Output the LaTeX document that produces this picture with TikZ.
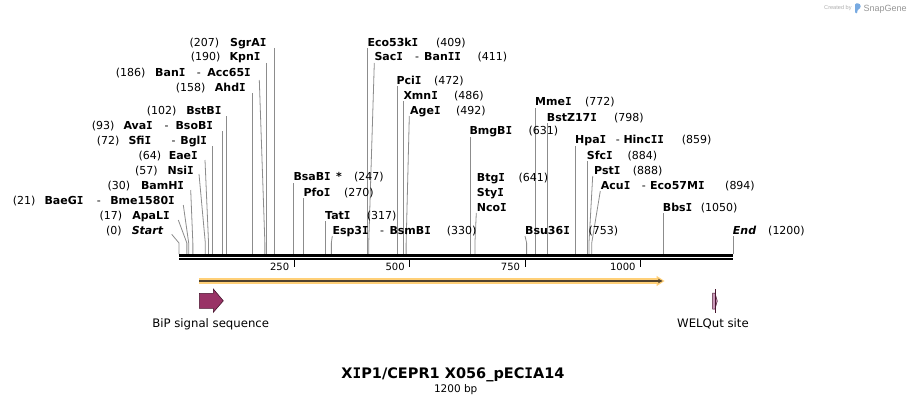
\documentclass[tikz,border=0pt]{standalone}
\usepackage{fontspec}
\setmainfont{DejaVu Sans}
\newfontfamily\libsans{Liberation Sans}
\newfontfamily\dmono{DejaVu Sans Mono}
\newcommand\sI{{\dmono I}}
\usetikzlibrary{calc,arrows.meta}
\definecolor{cngray}{RGB}{140,140,140}
\definecolor{orf}{RGB}{255,208,120}
\definecolor{orfdark}{RGB}{80,66,45}
\definecolor{bip}{RGB}{153,51,102}
\definecolor{bipdark}{RGB}{70,20,45}
\definecolor{welq}{RGB}{204,153,187}
\definecolor{logoblue}{RGB}{120,170,225}
\definecolor{credgray}{RGB}{175,175,175}
\definecolor{snapgray}{RGB}{150,150,150}
\tikzset{
  nm/.style={font=\fontsize{11}{13}\selectfont\bfseries, inner sep=0pt, text height=8pt, text depth=0pt},
  nmi/.style={font=\fontsize{11}{13}\selectfont\bfseries\itshape, inner sep=0pt, text height=8pt, text depth=0pt},
  ps/.style={font=\fontsize{11}{13}\selectfont, inner sep=0pt, text height=8pt, text depth=0pt},
  cn/.style={draw=cngray, line width=0.8pt},
  featlbl/.style={font=\fontsize{11.7}{14}\selectfont, inner sep=0pt, text height=8.5pt, text depth=0pt},
}
% vertical connector: id, start y, bp
\newcommand\mkV[3]{\coordinate (s#1) at ({179+#3*0.461667},254); \coordinate (c#1) at ({179+#3*0.461667},#2); \draw[cn] (c#1) -- (s#1);}
% slanted connector: id, start x, start y, bp
\newcommand\mkS[4]{\coordinate (s#1) at ({179+#4*0.461667},254); \coordinate (c#1) at (#2,#3); \draw[cn] (c#1) -- ($(s#1)+(0,-11)$) -- (s#1);}
\newcommand\tW[5]{\node[#1,anchor=west] (#2) at (#3,#4) {#5};}
\newcommand\tE[5]{\node[#1,anchor=east] (#2) at (#3,#4) {#5};}
\begin{document}
\begin{tikzpicture}[x=1pt,y=-1pt]
\useasboundingbox (0,0) rectangle (912,404);
\fill[white] (0,0) rectangle (912,404);

% ---------- connectors ----------
\mkV{SgrAI}{48}{207}
\mkV{KpnI}{63}{190}
\mkS{BanI}{259.3}{80}{186}
\mkV{AhdI}{93}{158}
\mkV{BstBI}{116}{102}
\mkV{AvaI}{131}{93}
\mkV{SfiI}{146}{72}
\mkS{EaeI}{205}{160}{64}
\mkS{NsiI}{199}{174}{57}
\mkS{BamHI}{190.7}{190}{30}
\mkS{BaeGI}{183.3}{205}{21}
\mkS{ApaLI}{178.3}{220}{17}
\mkS{Start}{171.7}{234.3}{0}
\mkV{Eco53kI}{48}{409}
\mkS{SacI}{374.3}{63}{411}
\mkV{PciI}{86}{472}
\mkV{XmnI}{101}{486}
\mkS{AgeI}{409.3}{116}{492}
\mkV{BmgBI}{137}{631}
\mkV{BsaBI}{183}{247}
\mkV{PfoI}{198}{270}
\mkV{TatI}{221}{317}
\mkS{Esp3I}{332.3}{236}{330}
\mkS{BtgI}{476.3}{213}{641}
\mkS{Bsu36I}{525}{236}{753}
\mkV{MmeI}{108}{772}
\mkV{BstZ}{123}{798}
\mkV{HpaI}{146}{859}
\mkV{SfcI}{161}{884}
\mkS{PstI}{592.7}{176}{888}
\mkS{AcuI}{600.3}{191}{894}
\mkV{BbsI}{213}{1050}
\mkV{End}{236}{1200}

% ---------- left labels ----------
\tW{ps}{p1}{189.3}{42.3}{(207)}  \tE{nm}{n1}{266.7}{42.3}{SgrA\sI}
\tW{ps}{p2}{190.7}{56.7}{(190)}  \tE{nm}{n2}{260.7}{56.7}{Kpn\sI}
\tW{ps}{p3}{115.7}{72.3}{(186)}  \tW{nm}{n3}{155}{72.3}{Ban\sI} \tW{ps}{h3}{196.7}{72.3}{-} \tE{nm}{m3}{251}{72.3}{Acc65\sI}
\tW{ps}{p4}{175.7}{87.3}{(158)}  \tE{nm}{n4}{246}{87.3}{Ahd\sI}
\tW{ps}{p5}{146.7}{110}{(102)}   \tE{nm}{n5}{221.7}{110}{BstB\sI}
\tW{ps}{p6}{91.7}{125}{(93)}     \tW{nm}{n6}{123.3}{125}{Ava\sI} \tW{ps}{h6}{164.3}{125}{-} \tE{nm}{m6}{213.3}{125}{BsoB\sI}
\tW{ps}{p7}{96.7}{140}{(72)}     \tW{nm}{n7}{128.3}{140}{Sfi\sI} \tW{ps}{h7}{171.5}{140}{-} \tE{nm}{m7}{207.3}{140}{Bgl\sI}
\tW{ps}{p8}{138.3}{155}{(64)}    \tE{nm}{n8}{198}{155}{Eae\sI}
\tW{ps}{p9}{135}{170}{(57)}      \tE{nm}{n9}{194}{170}{Nsi\sI}
\tW{ps}{p10}{107.3}{185}{(30)}   \tE{nm}{n10}{184.3}{185}{BamH\sI}
\tW{ps}{p11}{12.7}{200}{(21)}    \tW{nm}{n11}{44.3}{200}{BaeG\sI} \tW{ps}{h11}{96.7}{200}{-} \tE{nm}{m11}{175}{200}{Bme1580\sI}
\tW{ps}{p12}{99.3}{215}{(17)}    \tE{nm}{n12}{170}{215}{ApaL\sI}
\tW{ps}{p13}{106}{230}{(0)}      \tE{nmi}{n13}{163.3}{230}{Start}

% ---------- right labels ----------
\tW{nm}{n14}{367.3}{42.3}{Eco53k\sI} \tW{ps}{p14}{436}{42.3}{(409)}
\tW{nm}{n15}{374.3}{56.7}{Sac\sI} \tW{ps}{h15}{415}{56.7}{-} \tW{nm}{m15}{424}{56.7}{Ban\sI\sI} \tW{ps}{p15}{477.3}{56.7}{(411)}
\tW{nm}{n16}{396.3}{80}{Pci\sI} \tW{ps}{p16}{434}{80}{(472)}
\tW{nm}{n17}{403.3}{95}{Xmn\sI} \tW{ps}{p17}{454}{95}{(486)}
\tW{nm}{n18}{410}{110}{Age\sI} \tW{ps}{p18}{456}{110}{(492)}
\tW{nm}{n19}{469.3}{130.7}{BmgB\sI} \tW{ps}{p19}{528.3}{130.7}{(631)}
\tW{nm}{n20}{293.3}{176.7}{BsaB\sI} \tW{nm}{a20}{336}{176.7}{*} \tW{ps}{p20}{354}{176.7}{(247)}
\tW{nm}{n21}{303.3}{192.3}{Pfo\sI} \tW{ps}{p21}{344}{192.3}{(270)}
\tW{nm}{n22}{325}{215}{Tat\sI} \tW{ps}{p22}{366.7}{215}{(317)}
\tW{nm}{n23}{332.3}{230}{Esp3\sI} \tW{ps}{h23}{380}{230}{-} \tW{nm}{m23}{389.3}{230}{BsmB\sI} \tW{ps}{p23}{446.7}{230}{(330)}
\tW{nm}{n24}{476.7}{177.3}{Btg\sI} \tW{ps}{p24}{518.3}{177.3}{(641)}
\tW{nm}{n24b}{476.7}{192.3}{Sty\sI}
\tW{nm}{n24c}{476.7}{207.3}{Nco\sI}
\tW{nm}{n25}{525}{230}{Bsu36\sI} \tW{ps}{p25}{588.3}{230}{(753)}
\tW{nm}{n26}{535}{101.7}{Mme\sI} \tW{ps}{p26}{585}{101.7}{(772)}
\tW{nm}{n27}{546.7}{117.3}{BstZ17\sI} \tW{ps}{p27}{614}{117.3}{(798)}
\tW{nm}{n28}{575}{139.7}{Hpa\sI} \tW{ps}{h28}{615.7}{139.7}{-} \tW{nm}{m28}{623.3}{139.7}{Hinc\sI\sI} \tW{ps}{p28}{681.7}{139.7}{(859)}
\tW{nm}{n29}{586.7}{155}{Sfc\sI} \tW{ps}{p29}{627.3}{155}{(884)}
\tW{nm}{n30}{594}{170}{Pst\sI} \tW{ps}{p30}{632.7}{170}{(888)}
\tW{nm}{n31}{600.7}{185}{Acu\sI} \tW{ps}{h31}{641.7}{185}{-} \tW{nm}{m31}{650}{185}{Eco57M\sI} \tW{ps}{p31}{725}{185}{(894)}
\tW{nm}{n32}{662.7}{207.3}{Bbs\sI} \tW{ps}{p32}{700.7}{207.3}{(1050)}
\tW{nmi}{n33}{732.7}{230}{End} \tW{ps}{p33}{768}{230}{(1200)}

% ---------- backbone ----------
\draw[line width=2.7pt] (179,255.3) coordinate (bbL) -- (733,255.3) coordinate (bbR);
\draw[line width=2.3pt] (179,259.2) -- (733,259.2);
\foreach \t in {250,500,750,1000} {
  \draw[line width=1.3pt] ({179+\t*0.461667},260.3) -- ++(0,6.7);
  \node[font=\fontsize{10}{12}\selectfont, anchor=east, inner sep=0pt, text height=7.3pt, text depth=0pt] (tk\t) at ({179+\t*0.461667-5},266.7) {\t};
}

% ---------- ORF arrow ----------
\draw[orf, line width=5.2pt] (199.3,281) coordinate (orfL) -- (659,281);
\fill[orf] (656.5,275.8) -- (664.5,281) coordinate (orfR) -- (656.5,286.2) -- cycle;
\draw[orfdark, line width=1.1pt, -{Stealth[length=4.5pt,width=4.5pt]}] (orfL) -- (662.5,281);

% ---------- features ----------
\filldraw[fill=bip, draw=bipdark, line width=0.6pt]
  (199.3,293.3) -- (213.3,293.3) -- (213.3,289) -- (223.3,300.8) -- (213.3,312.3) -- (213.3,308.3) -- (199.3,308.3) -- cycle;
\node[featlbl] (biplbl) at (210.7,323) {BiP signal sequence};
\filldraw[fill=welq, draw=bipdark, line width=0.5pt]
  (712.7,293) -- (715,293) -- (717.3,301) -- (715,309) -- (712.7,309) -- cycle;
\draw[bipdark, line width=0.6pt] (715,289.3) -- (715,313.3);
\node[featlbl] (welqlbl) at (713,323) {WELQut site};

% ---------- title ----------
\node[font=\fontsize{14.5}{16}\selectfont\bfseries, inner sep=0pt, text height=10.3pt, text depth=0pt] (title) at (453,373.3) {X\sI P1/CEPR1 X056\_pEC\sI A14};
\node[font=\fontsize{10.5}{12}\selectfont, inner sep=0pt, text height=7.6pt, text depth=0pt] (bplen) at (455.7,388.3) {1200 bp};

% ---------- watermark ----------
\node[font=\libsans\fontsize{5.6}{7}\selectfont, text=credgray, anchor=west, inner sep=0pt, text height=4pt, text depth=0pt] (cred) at (824,7.5) {Created by};
\fill[logoblue, rounded corners=1.2pt] (855,3.3) -- (859,3.3) -- (860.7,5.3) -- (860.7,7.4) -- (859,9.4) -- (857.4,9.4) -- (857.4,13.3) -- (855,13.3) -- cycle;
\node[font=\libsans\fontsize{9}{11}\selectfont, text=snapgray, anchor=west, inner sep=0pt, text height=6.5pt, text depth=0pt] (snap) at (863.3,8) {SnapGene};
\end{tikzpicture}
\end{document}
